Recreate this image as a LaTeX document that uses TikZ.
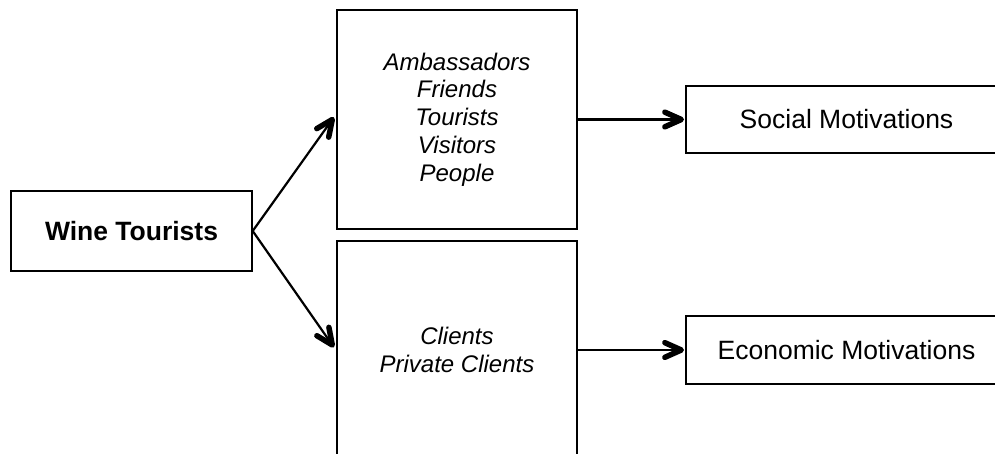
\documentclass[tikz,border=0pt]{standalone}
\usepackage{fontspec}
\setmainfont{Liberation Sans}
\usetikzlibrary{calc}

\tikzset{
  box/.style={draw=black, line width=1.4pt, rectangle, inner sep=0pt, align=center,
    font=\fontsize{26.5}{30}\selectfont},
  listbox/.style={box, font=\fontsize{24}{27.8}\selectfont\itshape},
  link/.style={draw=black, line width=2.2pt},
  barb/.style={draw=black, line width=5.5pt, line cap=round, line join=round},
}

% shaft from #1 to #2 with an open chevron head at #2
\newcommand\linkarrow[2]{%
  \draw[link] (#1) -- (#2);
  \draw[barb] ($(#2)!18pt!24:(#1)$) -- (#2) -- ($(#2)!18pt!-24:(#1)$);
}

\begin{document}
\begin{tikzpicture}[x=1pt, y=-1pt]
  \useasboundingbox (0,0) rectangle (995,454);
  \clip (0,0) rectangle (995,454);

  % source box
  \node[box, minimum width=241pt, minimum height=80pt] (wt) at (131.5,231) {\bfseries Wine Tourists};

  % middle boxes with the labels used for the tourists
  \node[listbox, minimum width=240pt, minimum height=219pt] (amb) at (457,119.5)
    {Ambassadors\\Friends\\Tourists\\Visitors\\People};
  \node[listbox, minimum width=240pt, minimum height=218pt] (cli) at (457,350)
    {Clients\\Private Clients};

  % motivation boxes
  \node[box, minimum width=321pt, minimum height=67pt] (soc) at (846.5,119.5) {Social Motivations};
  \node[box, minimum width=321pt, minimum height=68pt] (eco) at (846.5,350) {Economic Motivations};

  % arrow end points, just short of each target box
  \coordinate (ambin) at ($(amb.west)+(-4,0)$);
  \coordinate (cliin) at ($(cli.west)+(-4,-5)$);
  \coordinate (socin) at ($(soc.west)+(-4,0)$);
  \coordinate (ecoin) at ($(eco.west)+(-4,0)$);

  % connectors
  \linkarrow{wt.east}{ambin}
  \linkarrow{wt.east}{cliin}
  \linkarrow{amb.east}{socin}
  \linkarrow{cli.east}{ecoin}
\end{tikzpicture}
\end{document}
